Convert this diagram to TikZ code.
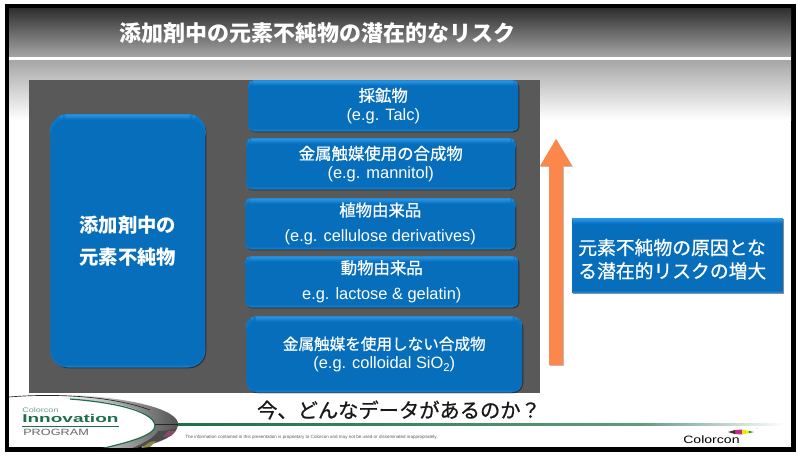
\documentclass[tikz,border=0pt]{standalone}
\usepackage{fontspec}
\setmainfont{Liberation Sans}
\newfontfamily\cjk{Noto Sans CJK JP}
\newfontfamily\cjkm[FakeBold=0.8]{Noto Sans CJK JP}
\usetikzlibrary{shadows,fadings}
\definecolor{bluemain}{RGB}{7,110,187}
\definecolor{bluetop}{RGB}{40,155,235}
\definecolor{orangeA}{RGB}{252,135,75}
\definecolor{panelgray}{RGB}{89,89,89}
\definecolor{lineGreen}{RGB}{30,110,75}
\tikzset{
  bluebox/.style={rounded corners=#1, draw=none, fill=bluemain,
    path picture={
      \foreach \k/\m in {0/100,1/85,2/68,3/50,4/32,5/16}{
        \fill[bluetop!\m!bluemain] ([yshift=-\k*0.7pt]path picture bounding box.north west) rectangle ([yshift=-\k*0.7pt-0.75pt]path picture bounding box.north east);
      }
      \foreach \k/\m in {0/55,1/25}{
        \fill[bluetop!\m!bluemain] ([yshift=\k*0.7pt]path picture bounding box.south west) rectangle ([yshift=\k*0.7pt+0.75pt]path picture bounding box.south east);
      }
    },
    drop shadow={fill=black,opacity=.45,shadow xshift=.8pt,shadow yshift=-.8pt},
    text=white, align=center, font=\fontsize{12.3}{14}\selectfont, inner sep=0pt, anchor=north west},
  bluebox/.default=6pt,
}
\begin{document}
\begin{tikzpicture}[x=0.75pt,y=-0.75pt]
\useasboundingbox (0,0) rectangle (800,455);
\fill[white] (0,0) rectangle (800,455);
% frame
\fill[black] (5,4) rectangle (796,452);
\fill[white] (9,8) rectangle (791,447);
% header
\shade[top color=black!82, bottom color=black!35] (9,8) rectangle (791,57);
\fill[white] (9,57) rectangle (791,60);
\shade[top color=black!35, bottom color=white] (9,60) rectangle (791,120);
% panel
\fill[panelgray] (29,80) rectangle (540,393);
\node[text=white,font=\cjk\bfseries\fontsize{16.5}{20}\selectfont,anchor=center] (title) at (317,33) {添加剤中の元素不純物の潜在的なリスク};
% left box
\node[bluebox=13pt,minimum width=155*0.75pt,minimum height=253*0.75pt,font=\cjk\bfseries\fontsize{14.5}{24}\selectfont] (main) at (50,114) {添加剤中の\\元素不純物};
% stacks
\node[bluebox=4pt,minimum width=270*0.75pt,minimum height=51*0.75pt] (a) at (248,80) {{\cjkm 採鉱物}\\(e.g. Talc)};
\node[bluebox=4pt,minimum width=269*0.75pt,minimum height=51*0.75pt] (b) at (246,138) {{\cjkm 金属触媒使用の合成物}\\(e.g. mannitol)};
\node[bluebox=4pt,minimum width=270*0.75pt,minimum height=51*0.75pt,font=\fontsize{12.3}{19}\selectfont] (c) at (245,198) {{\cjkm 植物由来品}\\(e.g. cellulose derivatives)};
\node[bluebox=4pt,minimum width=273*0.75pt,minimum height=51*0.75pt,font=\fontsize{12.3}{19.5}\selectfont] (d) at (245,256) {{\cjkm 動物由来品}\\e.g. lactose \& gelatin)};
\node[bluebox=8pt,minimum width=276*0.75pt,minimum height=76*0.75pt] (e) at (246,316) {{\cjkm\fontsize{11.7}{14}\selectfont 金属触媒を使用しない合成物}\\(e.g. colloidal SiO\raisebox{-.35ex}{\fontsize{8.5}{9}\selectfont 2})};
% arrow
\fill[orangeA,drop shadow={fill=black,opacity=.25,shadow xshift=.6pt,shadow yshift=-.6pt}]
  (549,365) -- (549,166) -- (540,166) -- (556,139) -- (572,166) -- (563,166) -- (563,365) -- cycle;
% right box
\node[bluebox=0pt,minimum width=211*0.75pt,minimum height=75*0.75pt,text width=199*0.75pt,align=left,font=\cjkm\fontsize{14.1}{17.5}\selectfont] (r) at (572,218) {\rule{0pt}{17pt}元素不純物の原因とな\\る潜在的リスクの増大};
% bottom
\fill[left color=lineGreen, right color=lineGreen!70!white] (175,423) rectangle (640,425.5);
\fill[left color=lineGreen!70!white, right color=white] (640,423) rectangle (785,425.5);
\node[font=\cjkm\fontsize{15.2}{17}\selectfont,text=black!90] (q) at (399,410) {今、どんなデータがあるのか？};
% swoosh logo
\begin{scope}
\clip (9,390) rectangle (791,447);
\shade[left color=white, right color=black!70]
  (60,394.5) .. controls (120,396) and (182,408) .. (178,426) .. controls (175,437) and (150,445) .. (130,449)
  -- (100,449) .. controls (130,442) and (156,435) .. (155,425) .. controls (150,408) and (110,400) .. (60,399) -- cycle;
\draw[lineGreen,line width=.9pt] (70,399) .. controls (110,402) and (152,410) .. (155,425) .. controls (156,435) and (130,442) .. (100,449);
\draw[black!85,line width=.5pt] (9,397) .. controls (50,393.5) and (110,395) .. (150,410);
\fill[black!70] (158,431) .. controls (168,431) and (177,428) .. (177,428) .. controls (175,438) and (150,446) .. (130,449) .. controls (145,443) and (155,437) .. (158,431) -- cycle;
\fill[magenta!50!black] (168,431) -- (175,431) -- (171,436) -- (163,437) -- cycle;
\fill[yellow!50!black] (150,442) -- (156,441) -- (150,447) -- (141,448) -- cycle;
\end{scope}
\draw[black!85,line width=.5pt] (155,424.5) -- (178,424.5);
\node[anchor=west,text=lineGreen!65,font=\fontsize{5}{6}\selectfont,inner sep=0] (l1) at (22,410) {\scalebox{1.36}[1]{Colorcon}};
\node[anchor=west,text=lineGreen,font=\bfseries\fontsize{8.5}{10}\selectfont,inner sep=0] (l2) at (22,418) {\scalebox{1.68}[1]{Innovation}};
\fill[lineGreen] (22,425.5) rectangle (119,426.5);
\node[anchor=west,text=black!60,font=\fontsize{6.8}{8}\selectfont,inner sep=0] (l3) at (23,432) {\scalebox{1.4}[1]{PROGRAM}};
\node[anchor=west,text=black!65,font=\fontsize{3.4}{4}\selectfont,inner sep=0] (legal) at (185,437) {The information contained in this presentation is proprietary to Colorcon and may not be used or disseminated inappropriately.};
% colorcon
\node[anchor=west,text=black,font=\fontsize{8}{10}\selectfont,inner sep=0] (cc) at (683,439.5) {\scalebox{1.32}[1]{Colorcon}};
\fill[black!80] (728,432) -- (735,430) -- (735,434) -- cycle;
\fill[magenta!80!black] (735,430) -- (742,429.5) -- (742,434.5) -- (735,434) -- cycle;
\fill[yellow!90!green] (742,429.5) -- (749,431) -- (749,433) -- (742,434.5) -- cycle;
\fill[green!60!black] (749,431) -- (754,432) -- (749,433) -- cycle;
\fill[black!50] (757,428) circle (.5);
\end{tikzpicture}
\end{document}
